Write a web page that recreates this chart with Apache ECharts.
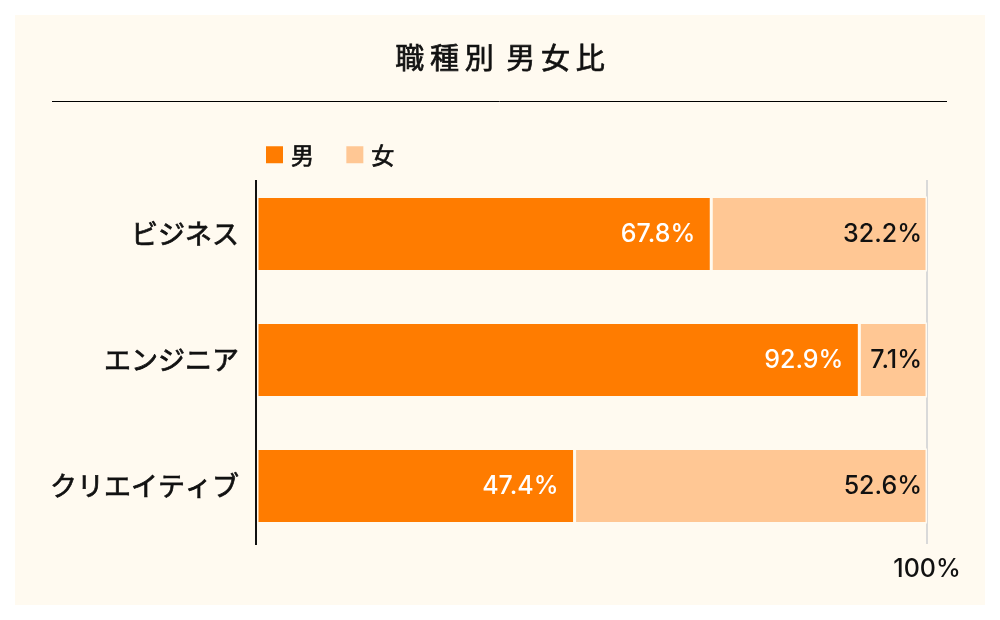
<!DOCTYPE html>
<html>
<head>
<meta charset="UTF-8">
<title>職種別 男女比</title>
<script src="https://cdn.jsdelivr.net/npm/echarts@6/dist/echarts.min.js"></script>
<style>
  html, body { margin: 0; padding: 0; background: #fff; }
  #chart { width: 1000px; height: 620px; }
</style>
</head>
<body>
<div id="chart"></div>
<script>
// data
var categories = ['ビジネス', 'エンジニア', 'クリエイティブ'];
// bar lengths as drawn (the engineer bar is drawn at about 90 / 10)
var maleValues = [67.8, 89.9, 47.4];
var femaleValues = [32.2, 10.1, 52.6];
// labels as printed
var maleLabels = ['67.8%', '92.9%', '47.4%'];
var femaleLabels = ['32.2%', '7.1%', '52.6%'];
var seriesNames = ['男', '女'];

var cream = '#FFFAF0';
var jp = '"Noto Sans CJK JP", "Noto Sans", sans-serif';
var num = 'Inter, Roboto, "Liberation Sans", sans-serif';

var chart = echarts.init(document.getElementById('chart'));

function labelFrom(list) {
  return function (p) { return list[p.dataIndex]; };
}

// a thin outline in the text colour gives the medium weight of the original
var medium = { textBorderColor: '#111', textBorderWidth: 0.7 };

var option = {
  backgroundColor: '#fff',
  animation: false,
  title: {
    text: '職\u2009種\u2009別\u2009 男\u2009女\u2009比',
    left: 'center',
    top: 38,
    textStyle: Object.assign({ fontFamily: jp, fontSize: 29, fontWeight: 'normal', color: '#111' }, medium)
  },
  legend: {
    left: 259,
    top: 138,
    itemWidth: 19,
    itemHeight: 19,
    itemGap: 30,
    icon: 'rect',
    textStyle: Object.assign({ fontFamily: jp, fontSize: 23, fontWeight: 'normal', color: '#111', padding: [0, 0, 0, 2] }, medium),
    data: seriesNames
  },
  grid: { left: 257, right: 73, top: 171, bottom: 71 },
  xAxis: {
    type: 'value',
    min: 0,
    max: 100,
    interval: 100,
    axisLine: { show: false },
    axisTick: { show: false },
    splitLine: { show: false },
    axisLabel: {
      margin: 8,
      fontFamily: num,
      fontSize: 25,
      fontWeight: 500,
      color: '#111',
      formatter: function (v) { return v === 100 ? '100%' : ''; }
    }
  },
  yAxis: {
    type: 'category',
    inverse: true,
    data: categories,
    axisLine: { show: false },
    axisTick: { show: false },
    axisLabel: Object.assign({ margin: 18, fontFamily: jp, fontSize: 27, fontWeight: 'normal', color: '#111' }, medium)
  },
  series: [
    {
      name: seriesNames[0],
      type: 'bar',
      stack: 'total',
      barWidth: 75,
      data: maleValues,
      itemStyle: { color: '#FF7C00', borderColor: cream, borderWidth: 1.5 },
      label: {
        show: true,
        position: 'insideRight',
        distance: 16,
        fontFamily: num,
        fontSize: 25,
        fontWeight: 500,
        color: '#fff',
        formatter: labelFrom(maleLabels)
      }
    },
    {
      name: seriesNames[1],
      type: 'bar',
      stack: 'total',
      barWidth: 75,
      data: femaleValues,
      itemStyle: { color: '#FFC794', borderColor: cream, borderWidth: 1.5 },
      label: {
        show: true,
        position: 'insideRight',
        distance: 5,
        fontFamily: num,
        fontSize: 25,
        fontWeight: 500,
        color: '#111',
        formatter: labelFrom(femaleLabels)
      }
    }
  ]
};
chart.setOption(option);

// panel, title rule and axis lines
var x0 = chart.convertToPixel({ xAxisIndex: 0 }, 0);
var x100 = chart.convertToPixel({ xAxisIndex: 0 }, 100);
chart.setOption({
  graphic: [
    { type: 'rect', z: -10, silent: true, shape: { x: 15, y: 15, width: 970, height: 590 }, style: { fill: cream } },
    { type: 'line', z: 1, silent: true, shape: { x1: 52, y1: 101.5, x2: 947, y2: 101.5 }, style: { stroke: '#000', lineWidth: 1 } },
    { type: 'line', z: 1, silent: true, shape: { x1: x100, y1: 180, x2: x100, y2: 544 }, style: { stroke: '#d9d9d9', lineWidth: 2 } },
    { type: 'line', z: 10, silent: true, shape: { x1: x0 - 1, y1: 180, x2: x0 - 1, y2: 545 }, style: { stroke: '#111', lineWidth: 2 } }
  ]
});
</script>
</body>
</html>
